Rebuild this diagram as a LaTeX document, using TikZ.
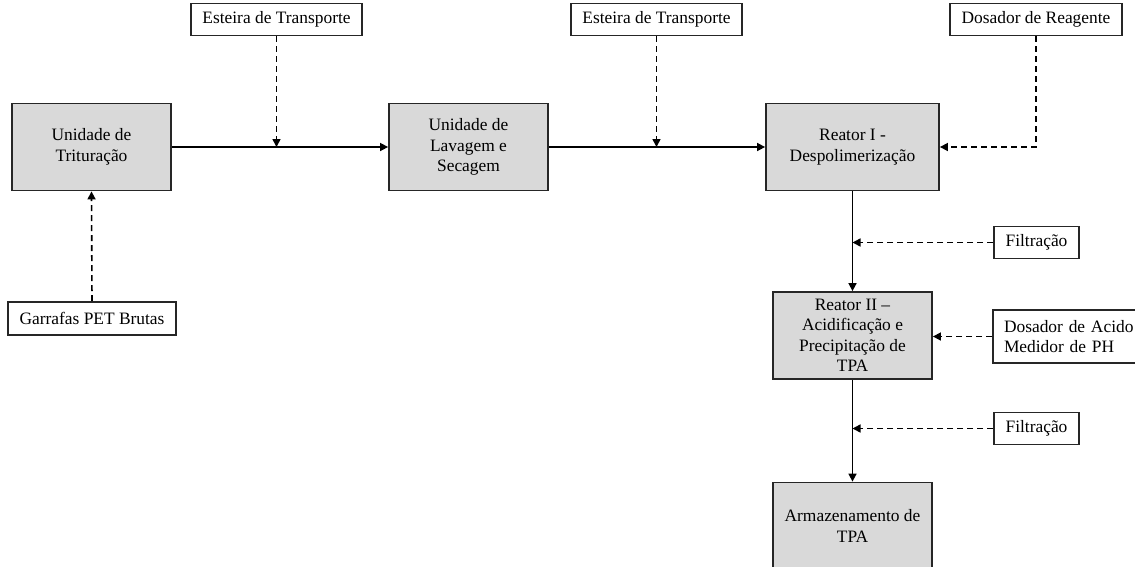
\documentclass[tikz,border=0pt]{standalone}
\usepackage{fontspec}
\setmainfont{Liberation Serif}
\usetikzlibrary{arrows.meta,positioning}
\begin{document}
\begin{tikzpicture}[x=1pt,y=-1pt,
  font=\fontsize{17.4}{20.5}\selectfont,
  unit/.style={draw=black!85, line width=1.8pt, fill=black!15, align=center,
    inner sep=0pt, minimum width=#1, minimum height=87pt},
  unit/.default=159pt,
  aux/.style={draw=black!85, line width=1.6pt, fill=white, align=center,
    inner sep=0pt, minimum width=#1, minimum height=32pt},
  aux/.default=171pt,
  flow/.style={line width=1.6pt, -{Triangle[length=8pt,width=8pt]}},
  feed/.style={line width=1.6pt, dash pattern=on 6pt off 4pt,
    -{Triangle[length=8pt,width=8pt]}}
]
\useasboundingbox (0,0) rectangle (1135,566);

% process units
\node[unit] (trit) at (91.5,147) {Unidade de\\Trituração};
\node[unit] (lav)  at (468.5,147) {Unidade de\\Lavagem e\\Secagem};
\node[unit=173pt] (r1) at (852.5,147) {Reator I -\\Despolimerização};
\node[unit] (r2)   at (852.5,335.5) {Reator II –\\Acidificação e\\Precipitação de\\TPA};
\node[unit] (arm)  at (852.5,526) {Armazenamento de\\TPA};

% auxiliary inputs
\node[aux] (est1) at (276.5,19.5) {Esteira de Transporte};
\node[aux] (est2) at (656.5,19.5) {Esteira de Transporte};
\node[aux=172pt] (dos) at (1036,19.5) {Dosador de Reagente};
\node[aux=168pt, minimum height=33pt] (garr) at (92,318.5) {Garrafas PET Brutas};
\node[aux=85pt] (fil1) at (1036.5,242.5) {Filtração};
\node[aux=85pt] (fil2) at (1036.5,428.5) {Filtração};
\node[aux=152pt, minimum height=53pt, text width=130pt, align=left,
  inner xsep=11pt] (acid) at (1069,336.5) {Dosador de Acido\\Medidor de PH};

% junction points on the main flow lines
\coordinate (j1) at (est1.south |- trit.east);
\coordinate (j2) at (est2.south |- lav.east);
\coordinate (j3) at (r1.south |- fil1.west);
\coordinate (j4) at (r2.south |- fil2.west);

% main flow
\draw[flow] (trit.east) -- (lav.west);
\draw[flow] (lav.east) -- (r1.west);
\draw[flow] (r1.south) -- (r2.north);
\draw[flow] (r2.south) -- (arm.north);

% feeds
\draw[feed] (est1.south) -- (j1);
\draw[feed] (est2.south) -- (j2);
\draw[feed] (garr.north) -- (trit.south);
\draw[feed] (dos.south) |- (r1.east);
\draw[feed] (fil1.west) -- (j3);
\draw[feed] (acid.west) -- (acid.west -| r2.east);
\draw[feed] (fil2.west) -- (j4);
\end{tikzpicture}
\end{document}
